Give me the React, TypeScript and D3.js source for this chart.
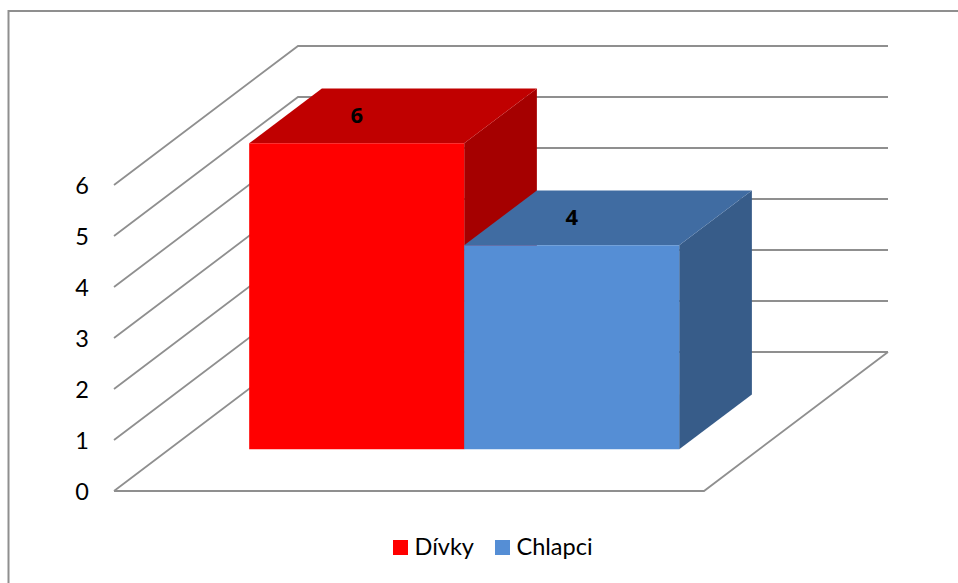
import React, { useEffect, useRef } from 'react';
import * as d3 from 'd3';

const categories = ['Dívky', 'Chlapci'];
const values = [6, 4];
const yTicks = [0, 1, 2, 3, 4, 5, 6];
const frontColors = ['#ff0000', '#558ed5'];
const topColors = ['#c00000', '#406ca2'];
const sideColors = ['#a50000', '#375c89'];

const GRID = '#8f8f8f';
const FONT = 'Lato, "Open Sans", sans-serif';

const App = () => {
  const svgRef = useRef<SVGSVGElement>(null);

  useEffect(() => {
    drawChart(svgRef);
  }, [svgRef]);

  return (
    <svg
      ref={svgRef}
      width={958}
      height={583}
      style={{ position: 'absolute', left: 0, top: 0, background: '#fff' }}
    />
  );
};

function drawChart(svgRef: React.RefObject<SVGSVGElement>) {
  const svg = d3.select(svgRef.current);
  svg.selectAll('*').remove();

  // floor front edge, and how far the depth axis shifts things
  const x = d3.scaleBand<string>().domain(categories).range([114, 704]).paddingInner(0).paddingOuter(0.372);
  const y = d3.scaleLinear().domain([0, 6]).range([491, 185]);
  const depthX = d3.scaleLinear().domain([0, 1]).range([0, 184]);
  const depthY = d3.scaleLinear().domain([0, 1]).range([0, 139]);

  const pt = (px: number, value: number, depth: number): [number, number] => [
    px + depthX(depth),
    y(value) - depthY(depth),
  ];
  const line = d3.line();

  // outer chart frame, only top and left are in view
  svg
    .append('path')
    .attr('d', line([[8.5, 583], [8.5, 11], [958, 11]]))
    .attr('fill', 'none')
    .attr('stroke', GRID)
    .attr('stroke-width', 2);

  // wall gridlines
  svg
    .append('g')
    .selectAll('path')
    .data(yTicks)
    .join('path')
    .attr('d', (t) => line([pt(114, t, 0), pt(114, t, 1), pt(704, t, 1)]))
    .attr('fill', 'none')
    .attr('stroke', GRID)
    .attr('stroke-width', 1.8);

  // floor
  svg
    .append('path')
    .attr('d', line([pt(114, 0, 0), pt(704, 0, 0), pt(704, 0, 1)]))
    .attr('fill', 'none')
    .attr('stroke', GRID)
    .attr('stroke-width', 1.8);

  // y labels
  svg
    .append('g')
    .selectAll('text')
    .data(yTicks)
    .join('text')
    .attr('x', 82)
    .attr('y', (t) => y(t) + 1)
    .attr('dy', '0.35em')
    .attr('text-anchor', 'middle')
    .attr('font-family', FONT)
    .attr('font-size', 23.5)
    .attr('fill', '#000')
    .text((t) => t);

  // bars
  const d0 = 0.3;
  const d1 = 0.695;
  const bars = svg
    .append('g')
    .selectAll('g')
    .data(categories)
    .join('g');

  bars
    .append('path')
    .attr('d', (c, i) => {
      const xr = (x(c) as number) + x.bandwidth();
      return line([pt(xr, 0, d0), pt(xr, 0, d1), pt(xr, values[i], d1), pt(xr, values[i], d0)]) + 'Z';
    })
    .attr('fill', (c, i) => sideColors[i]);

  bars
    .append('path')
    .attr('d', (c, i) => {
      const xl = x(c) as number;
      const xr = xl + x.bandwidth();
      return line([pt(xl, values[i], d0), pt(xr, values[i], d0), pt(xr, values[i], d1), pt(xl, values[i], d1)]) + 'Z';
    })
    .attr('fill', (c, i) => topColors[i]);

  bars
    .append('path')
    .attr('d', (c, i) => {
      const xl = x(c) as number;
      const xr = xl + x.bandwidth();
      return line([pt(xl, 0, d0), pt(xr, 0, d0), pt(xr, values[i], d0), pt(xl, values[i], d0)]) + 'Z';
    })
    .attr('fill', (c, i) => frontColors[i]);

  // value labels sit on the top face, lined up with the front of the bar
  bars
    .append('text')
    .attr('x', (c) => pt((x(c) as number) + x.bandwidth() / 2, 0, d0)[0])
    .attr('y', (c, i) => pt(0, values[i], 0.5)[1])
    .attr('dy', '0.35em')
    .attr('text-anchor', 'middle')
    .attr('font-family', '"Open Sans", sans-serif')
    .attr('font-weight', 700)
    .attr('font-size', 22)
    .attr('fill', '#000')
    .text((c, i) => values[i]);

  // legend
  const legendX = d3.scaleOrdinal<string, number>().domain(categories).range([393, 495]);
  const legend = svg
    .append('g')
    .selectAll('g')
    .data(categories)
    .join('g')
    .attr('transform', (c) => `translate(${legendX(c)},540)`);

  legend
    .append('rect')
    .attr('width', 15)
    .attr('height', 15)
    .attr('fill', (c, i) => frontColors[i]);

  legend
    .append('text')
    .attr('x', 21.5)
    .attr('y', 15)
    .attr('font-family', FONT)
    .attr('font-size', 23.5)
    .attr('fill', '#000')
    .text((c) => c);
}

export default App;
